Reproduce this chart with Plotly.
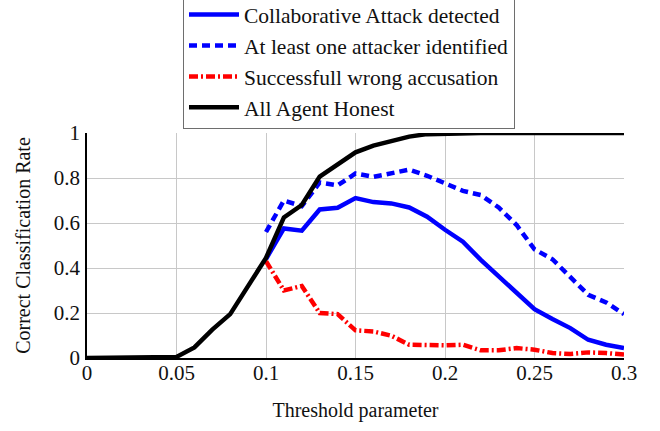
import plotly.graph_objects as go

threshold_all = [0.00, 0.01, 0.02, 0.03, 0.04, 0.05, 0.06, 0.07, 0.08, 0.09,
                 0.10, 0.11, 0.12, 0.13, 0.14, 0.15, 0.16, 0.17, 0.18, 0.19,
                 0.20, 0.21, 0.22, 0.23, 0.24, 0.25, 0.26, 0.27, 0.28, 0.29, 0.30]
threshold_attack = threshold_all[10:]

honest = [0.0, 0.0, 0.0, 0.0, 0.001, 0.005, 0.047, 0.126, 0.195, 0.318,
          0.445, 0.625, 0.68, 0.806, 0.862, 0.914, 0.944, 0.964, 0.984, 0.995,
          0.998, 0.998, 1.0, 1.0, 1.0, 1.0, 1.0, 1.0, 1.0, 1.0, 1.0]

collab_detected = [0.44, 0.576, 0.566, 0.66, 0.668, 0.711, 0.693, 0.687, 0.669, 0.628,
                   0.57, 0.517, 0.436, 0.362, 0.289, 0.217, 0.173, 0.133, 0.081, 0.059, 0.044]

one_identified = [0.56, 0.70, 0.675, 0.78, 0.767, 0.82, 0.805, 0.82, 0.837, 0.81,
                  0.775, 0.743, 0.724, 0.669, 0.591, 0.483, 0.439, 0.362, 0.281, 0.247, 0.195]

wrong_accusation = [0.43, 0.30, 0.32, 0.20, 0.195, 0.123, 0.118, 0.099, 0.059, 0.056,
                    0.056, 0.059, 0.034, 0.034, 0.044, 0.037, 0.022, 0.018, 0.025, 0.022, 0.015]

x_tickvals = [0, 0.05, 0.1, 0.15, 0.2, 0.25, 0.3]
x_ticktext = ["0", "0.05", "0.1", "0.15", "0.2", "0.25", "0.3"]
y_tickvals = [0, 0.2, 0.4, 0.6, 0.8, 1]
y_ticktext = ["0", "0.2", "0.4", "0.6", "0.8", "1"]

FONT = "Liberation Serif, Times New Roman, serif"

fig = go.Figure()
fig.add_trace(go.Scatter(x=threshold_attack, y=collab_detected, mode="lines",
                         name="Collaborative Attack detected",
                         line=dict(color="#0000ff", width=4.5)))
fig.add_trace(go.Scatter(x=threshold_attack, y=one_identified, mode="lines",
                         name="At least one attacker identified",
                         line=dict(color="#0000ff", width=4.5, dash="8px,5px")))
fig.add_trace(go.Scatter(x=threshold_attack, y=wrong_accusation, mode="lines",
                         name="Successfull wrong accusation",
                         line=dict(color="#ff0000", width=4.5, dash="9px,3px,2px,3px")))
fig.add_trace(go.Scatter(x=threshold_all, y=honest, mode="lines",
                         name="All Agent Honest",
                         line=dict(color="#000000", width=4.5)))

fig.update_layout(
    width=660, height=431,
    margin=dict(l=87, r=36, t=133, b=73, autoexpand=False),
    paper_bgcolor="white", plot_bgcolor="white",
    font=dict(family=FONT, size=21, color="#111111"),
    showlegend=True,
    legend=dict(x=(183 - 87) / 537, xanchor="left", y=(358 - 129) / 225, yanchor="bottom",
                bordercolor="#6e6e6e", borderwidth=1, bgcolor="white",
                font=dict(family=FONT, size=21.5, color="#111111"),
                itemwidth=50, entrywidth=356, entrywidthmode="pixels",
                tracegroupgap=0),
    xaxis=dict(range=[0, 0.3], tickvals=x_tickvals, ticktext=x_ticktext,
               showgrid=True, gridcolor="#c8c8c8", gridwidth=1,
               showline=True, linecolor="#000000", linewidth=1.5,
               zeroline=False, ticks="", ticklabelstandoff=-5,
               title=dict(text="Threshold parameter", standoff=19,
                          font=dict(family=FONT, size=20))),
    yaxis=dict(range=[0, 1], tickvals=y_tickvals, ticktext=y_ticktext,
               showgrid=True, gridcolor="#c8c8c8", gridwidth=1,
               showline=True, linecolor="#000000", linewidth=1.5,
               zeroline=False, ticks="", ticklabelstandoff=1,
               title=dict(text="Correct Classification Rate", standoff=18,
                          font=dict(family=FONT, size=20))),
)

fig.write_html("out.html", config={"displayModeBar": False},
               post_script="document.body.style.margin='0';document.body.style.padding='0';")
